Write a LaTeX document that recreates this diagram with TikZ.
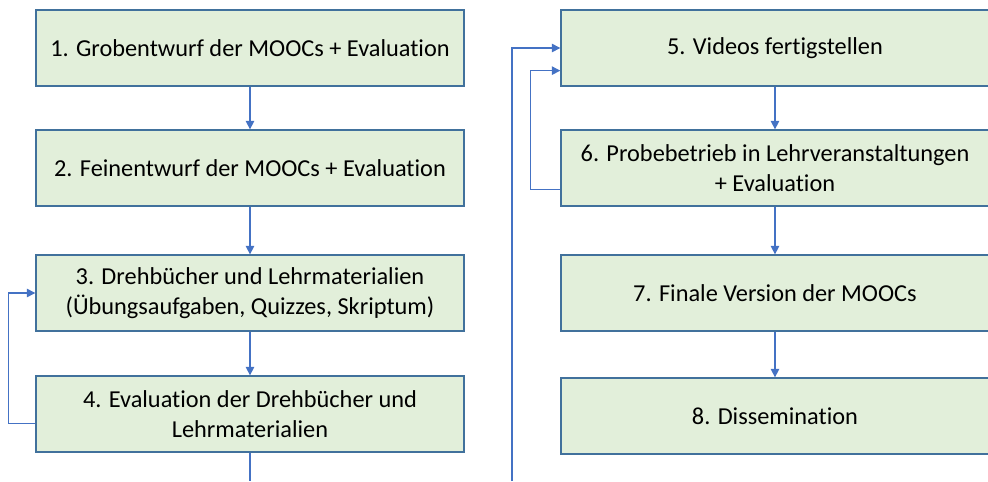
\documentclass[tikz,border=0pt]{standalone}
\usepackage{fontspec}
\setmainfont{Carlito}[Ligatures=NoCommon]
\usetikzlibrary{arrows.meta}
\definecolor{stagefill}{HTML}{E2EFDA}
\definecolor{stageline}{HTML}{41719C}
\definecolor{flowline}{HTML}{4472C4}
\tikzset{
	stage/.style={draw=stageline, fill=stagefill, line width=0.9pt, rectangle, minimum width=10.7cm, minimum height=1.9cm, align=center, inner sep=0pt, font=\fontsize{17.3}{21}\selectfont},
	flow/.style={draw=flowline, line width=0.9pt, -{Triangle[length=6pt,width=6pt]}},
	flowplain/.style={draw=flowline, line width=0.9pt}
}

\begin{document}
\begin{tikzpicture}[x=0.025cm, y=-0.025cm]
		%%%%% START %%%%%
		
		\useasboundingbox (0, 0) rectangle (988, 481);
		
		\node[stage] (s1) at (250, 48) {1. Grobentwurf der MOOCs + Evaluation};
		\node[stage] (s2) at (250, 168) {2. Feinentwurf der MOOCs + Evaluation};
		\node[stage] (s3) at (250, 293) {3. Drehbücher und Lehrmaterialien\\(Übungsaufgaben, Quizzes, Skriptum)};
		\node[stage] (s4) at (250, 414) {4. Evaluation der Drehbücher und\\Lehrmaterialien};
		
		\node[stage] (s5) at (775, 48) {5. Videos fertigstellen};
		\node[stage] (s6) at (775, 168) {6. Probebetrieb in Lehrveranstaltungen\\+ Evaluation};
		\node[stage] (s7) at (775, 293) {7. Finale Version der MOOCs};
		\node[stage] (s8) at (775, 416) {8. Dissemination};
		
		\coordinate (out4) at (250, 481);
		\coordinate (in5) at (512, 481);
		
		\draw[flow] (s1) -- (s2);
		\draw[flow] (s2) -- (s3);
		\draw[flow] (s3) -- (s4);
		\draw[flowplain] (s4) -- (out4);
		\draw[flow] ([yshift=-0.23cm]s4.west) -- ++(-27, 0) |- (s3.west);
		
		\draw[flow] (in5) |- (s5.west);
		\draw[flow] ([yshift=0.42cm]s6.south west) -- ++(-30, 0) |- ([yshift=0.40cm]s5.south west);
		\draw[flow] (s5) -- (s6);
		\draw[flow] (s6) -- (s7);
		\draw[flow] (s7) -- (s8);
		
		%%%%% END %%%%%
	\end{tikzpicture}
\end{document}
